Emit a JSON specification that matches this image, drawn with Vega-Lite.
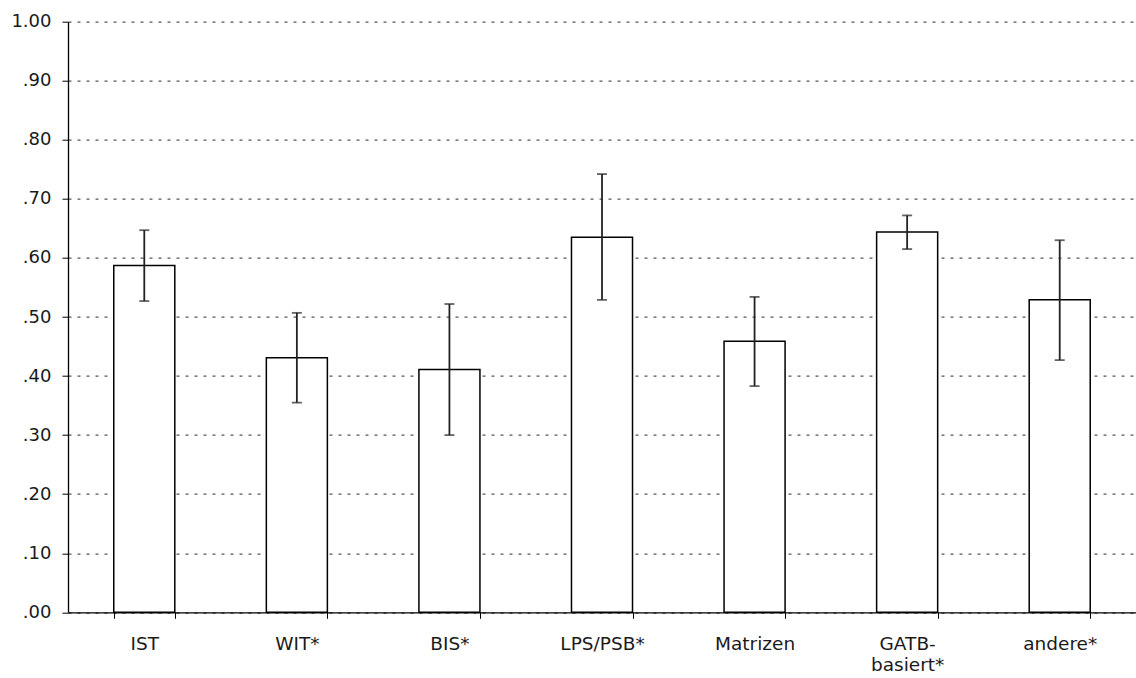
{
  "$schema": "https://vega.github.io/schema/vega-lite/v6.json",
  "width": 1068,
  "height": 590.6,
  "autosize": {"type": "none"},
  "padding": {"left": 68, "top": 21.7, "right": 0, "bottom": 65.7},
  "background": "white",
  "config": {"view": {"stroke": null}, "font": "DejaVu Sans"},
  "data": {
    "values": [
      {"cat": "IST", "value": 0.587, "lo": 0.527, "hi": 0.647},
      {"cat": "WIT*", "value": 0.431, "lo": 0.355, "hi": 0.507},
      {"cat": "BIS*", "value": 0.411, "lo": 0.300, "hi": 0.522},
      {"cat": "LPS/PSB*", "value": 0.635, "lo": 0.529, "hi": 0.742},
      {"cat": "Matrizen", "value": 0.459, "lo": 0.383, "hi": 0.534},
      {"cat": "GATB-basiert*", "value": 0.644, "lo": 0.615, "hi": 0.672},
      {"cat": "andere*", "value": 0.529, "lo": 0.427, "hi": 0.630}
    ]
  },
  "encoding": {
    "x": {
      "field": "cat",
      "type": "nominal",
      "sort": null,
      "scale": {"paddingInner": 0.6, "paddingOuter": 0.3},
      "axis": {
        "title": null,
        "labelAngle": 0,
        "tickBand": "extent",
        "domainColor": "black",
        "domainWidth": 1.3,
        "tickColor": "black",
        "tickSize": 6,
        "labelFontSize": 18.5,
        "labelColor": "#1a1a1a",
        "labelPadding": 16,
        "labelLineHeight": 21,
        "labelExpr": "datum.value == 'GATB-basiert*' ? ['GATB-', 'basiert*'] : datum.label",
        "grid": false
      }
    }
  },
  "layer": [
    {
      "mark": {"type": "bar", "fill": "white", "stroke": "black", "strokeWidth": 1.5},
      "encoding": {
        "y": {
          "field": "value",
          "type": "quantitative",
          "scale": {"domain": [0, 1], "nice": false},
          "axis": {
            "title": null,
            "values": [0, 0.1, 0.2, 0.3, 0.4, 0.5, 0.6, 0.7, 0.8, 0.9, 1.0],
            "labelExpr": "datum.value >= 0.999 ? '1.00' : replace(format(datum.value, '.2f'), '0.', '.')",
            "grid": true,
            "gridDash": [3, 6],
            "gridColor": "#555",
            "gridWidth": 1.2,
            "domainColor": "black",
            "domainWidth": 1.3,
            "tickColor": "black",
            "tickSize": 6,
            "labelFontSize": 18,
            "labelColor": "#1a1a1a",
            "labelPadding": 11
          }
        }
      }
    },
    {
      "mark": {"type": "rule", "color": "#222", "strokeWidth": 1.8},
      "encoding": {
        "y": {"field": "lo", "type": "quantitative"},
        "y2": {"field": "hi"}
      }
    },
    {
      "mark": {"type": "tick", "color": "#222", "size": 10, "thickness": 1.8},
      "encoding": {"y": {"field": "lo", "type": "quantitative"}}
    },
    {
      "mark": {"type": "tick", "color": "#222", "size": 10, "thickness": 1.8},
      "encoding": {"y": {"field": "hi", "type": "quantitative"}}
    }
  ]
}
